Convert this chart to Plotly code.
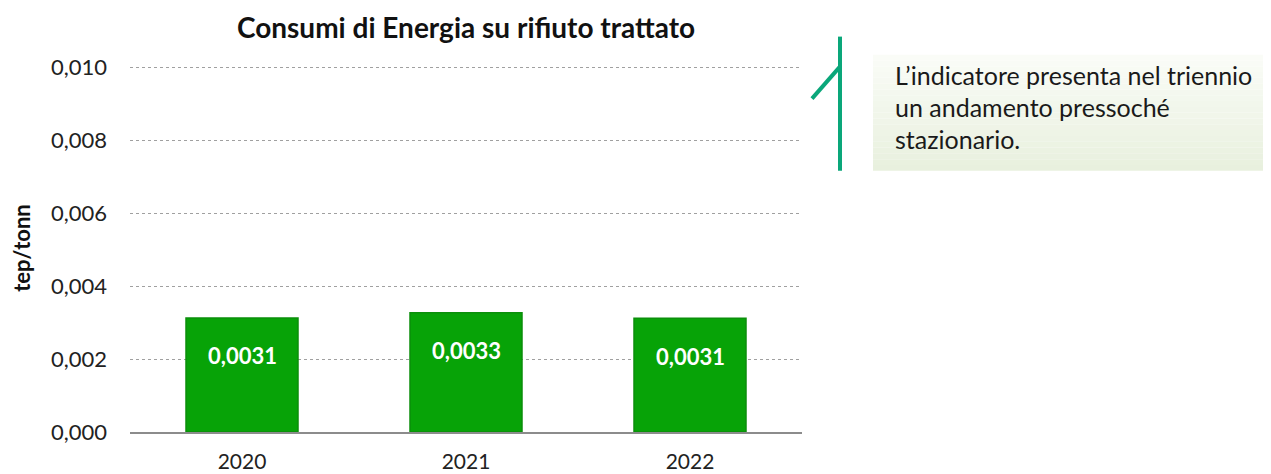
import plotly.graph_objects as go

years = ["2020", "2021", "2022"]
values = [0.00313, 0.00327, 0.00312]
labels = ["0,0031", "0,0033", "0,0031"]
tick_vals = [0.0, 0.002, 0.004, 0.006, 0.008, 0.010]
tick_text = ["0,000", "0,002", "0,004", "0,006", "0,008", "0,010"]
note_lines = ["L\u2019indicatore presenta nel triennio", "un andamento pressoché", "stazionario."]

FONT = "Lato, Open Sans, sans-serif"
OFF = 8  # page body margin
YMAX = 0.0101
L, R, B = 130, 802, 432           # plot area in page pixels
Y10 = 68                          # page y of the 0,010 gridline
T = B - (B - Y10) * YMAX / 0.010  # plot top so that 0,010 sits at Y10
W, H = 1271 - OFF, 474 - OFF

def px_x(p):
    return (p - L) / (R - L)

def px_y(p):
    return (B - p) / (B - T)

fig = go.Figure()
fig.add_trace(go.Bar(
    x=years, y=values, width=0.5,
    marker=dict(color="#07a307", line=dict(color="#0b8f0b", width=1.5)),
    hoverinfo="skip",
))

annotations = []
for i, (v, lab) in enumerate(zip(values, labels)):
    annotations.append(dict(x=i, y=v, xref="x", yref="y", text="<b>" + lab + "</b>",
                            showarrow=False, yanchor="middle", yshift=-38,
                            font=dict(family=FONT, size=22, color="white")))

for i, line in enumerate(note_lines):
    annotations.append(dict(x=px_x(893), y=px_y(75 + 32 * i), xref="paper", yref="paper",
                            text=line, showarrow=False, xanchor="left", yanchor="middle",
                            font=dict(family=FONT, size=25, color="#1a1a1a")))

shapes = []
x0, x1, y0, y1 = 873, 1275, 55, 171
n = 20
c_top = (250, 252, 247)
c_bot = (232, 240, 222)
for i in range(n):
    t = i / (n - 1)
    c = tuple(int(round(c_top[k] + (c_bot[k] - c_top[k]) * t)) for k in range(3))
    ya = y0 + (y1 - y0) * i / n
    yb = y0 + (y1 - y0) * (i + 1) / n
    shapes.append(dict(type="rect", xref="paper", yref="paper", layer="below",
                       x0=px_x(x0), x1=px_x(x1), y0=px_y(yb), y1=px_y(ya),
                       fillcolor="rgb(%d,%d,%d)" % c, line=dict(width=0)))
shapes.append(dict(type="line", xref="paper", yref="paper",
                   x0=px_x(840), x1=px_x(840), y0=px_y(37), y1=px_y(171),
                   line=dict(color="#0aa77a", width=4)))
shapes.append(dict(type="line", xref="paper", yref="paper",
                   x0=px_x(812), x1=px_x(840), y0=px_y(99), y1=px_y(67),
                   line=dict(color="#0aa77a", width=4)))

fig.update_layout(
    width=W, height=H,
    margin=dict(l=L - OFF, r=W - (R - OFF), t=T - OFF, b=H - (B - OFF), autoexpand=False),
    paper_bgcolor="white", plot_bgcolor="white",
    separators=",.",
    showlegend=False,
    title=dict(text="<b>Consumi di Energia su rifiuto trattato</b>",
               x=(466 - OFF) / W, xanchor="center", y=1 - (28 - OFF) / H, yanchor="middle",
               font=dict(family=FONT, size=28, color="#111111")),
    xaxis=dict(showgrid=False, showline=True, linecolor="#8c8c8c", linewidth=2,
               ticks="", tickfont=dict(family=FONT, size=21, color="#222222"),
               range=[-0.5, 2.5], ticklabelstandoff=10, automargin=False),
    yaxis=dict(range=[0, YMAX], tickvals=tick_vals, ticktext=tick_text,
               showgrid=True, gridcolor="#a0a0a0", griddash="dot", gridwidth=1,
               zeroline=False, showline=False, ticks="", automargin=False,
               tickfont=dict(family=FONT, size=22, color="#222222"),
               ticklabelstandoff=22,
               title=dict(text="<b>tep/tonn</b>", standoff=14,
                          font=dict(family=FONT, size=22, color="#111111"))),
    annotations=annotations,
    shapes=shapes,
)

fig.write_html("out.html")
